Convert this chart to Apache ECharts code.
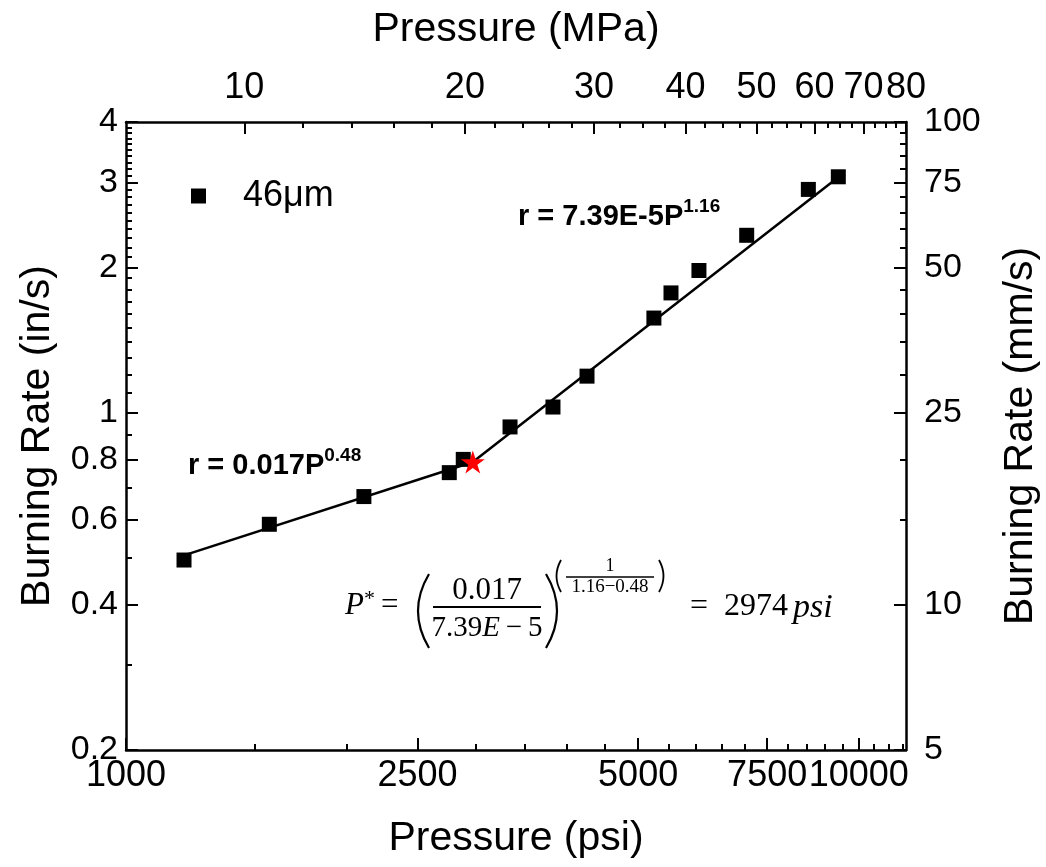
<!DOCTYPE html>
<html><head><meta charset="utf-8">
<script src="https://cdn.jsdelivr.net/npm/echarts@6/dist/echarts.min.js"></script>
<style>html,body{margin:0;padding:0;background:#fff}#c{width:1046px;height:867px}</style>
</head><body><div id="c"></div>
<script>
// ---- data ----
const pressurePsi = [1200, 1569, 2112, 2762, 2886, 3343, 3826, 4258, 5254, 5544, 6053, 7033, 8537, 9380];
const burnRate   = [0.495, 0.587, 0.670, 0.751, 0.800, 0.934, 1.027, 1.19, 1.57, 1.77, 1.97, 2.33, 2.90, 3.08];
const transitionP = [2974];
const transitionR = [0.79];
const fitLowP  = [1185, 2974];
const fitLowR  = [0.503, 0.79];
const fitHighP = [2974, 9500];
const fitHighR = [0.79, 3.12];
const seriesName = '46\u03bcm';

// ---- tick labels ----
const psiMajor = [1000, 2500, 5000, 7500, 10000];
const psiMinor = [1500, 2000, 3000, 3500, 4000, 4500, 5500, 6000, 6500, 7000, 8000, 8500, 9000, 9500, 10500, 11000, 11500];
const mpaMajor = [10, 20, 30, 40, 50, 60, 70, 80];
const mpaMinor = [12, 14, 16, 18, 22, 24, 26, 28, 32.5, 35, 37.5, 42.5, 45, 47.5, 52.5, 55, 57.5, 62.5, 65, 67.5, 72.5, 75, 77.5];
const inMajor = [0.2, 0.4, 0.6, 0.8, 1, 2, 3, 4];
const inMinor = [0.3, 0.5, 0.7, 0.9, 1.1, 1.2, 1.3, 1.4, 1.5, 1.6, 1.7, 1.8, 1.9, 2.1, 2.2, 2.3, 2.4, 2.5, 2.6, 2.7, 2.8, 2.9, 3.1, 3.2, 3.3, 3.4, 3.5, 3.6, 3.7, 3.8, 3.9];
const mmMajor = [5, 10, 25, 50, 75, 100];
const mmMinor = [15, 20, 30, 35, 40, 45, 55, 60, 65, 70, 80, 85, 90, 95];

// ---- axis ranges ----
const PSI_PER_MPA = 145.038;
const MPA_MAX = 80;
const PSI_MIN = 1000, PSI_MAX = MPA_MAX * PSI_PER_MPA;
const IN_MIN = 0.2, IN_MAX = 4;
const MM_MIN = 5, MM_MAX = 100;

const pair = (xs, ys) => xs.map((x, i) => [x, ys[i]]);
const SANS = "'Liberation Sans', Arial, sans-serif";
const NARROW = "'Liberation Sans Narrow', 'Arial Narrow', 'Liberation Sans', sans-serif";
const SERIF = "'Liberation Serif', 'DejaVu Serif', serif";
const fmt = v => String(+(+v).toPrecision(6));

function majorTick(vals) {
  return { show: true, inside: true, length: 12, customValues: vals, lineStyle: { color: '#000', width: 2 } };
}
function mainAxis(o) {
  return Object.assign({
    type: 'log', logBase: 10,
    axisLine: { show: true, lineStyle: { color: '#000', width: 2.5 } },
    splitLine: { show: false }, minorTick: { show: false },
    nameLocation: 'middle',
    nameTextStyle: { fontFamily: SANS, fontSize: 41, color: '#000' }
  }, o);
}
function minorAxis(o, vals) {
  return Object.assign({
    type: 'log', logBase: 10,
    axisLine: { show: false },
    axisTick: { show: true, inside: true, length: 6, customValues: vals, lineStyle: { color: '#000', width: 2 } },
    axisLabel: { show: false },
    splitLine: { show: false }, minorTick: { show: false }
  }, o);
}
function labels(vals, font, size, margin) {
  return { customValues: vals, formatter: fmt, margin: margin, fontFamily: font, fontSize: size,
           color: '#000', hideOverlap: false, showMinLabel: true, showMaxLabel: true };
}

const option = {
  animation: false,
  backgroundColor: '#fff',
  grid: { left: 126, right: 140, top: 122, bottom: 117, containLabel: false, outerBoundsMode: 'none' },
  xAxis: [
    mainAxis({ position: 'bottom', min: PSI_MIN, max: PSI_MAX, name: 'Pressure (psi)', nameGap: 68,
      axisTick: majorTick(psiMajor), axisLabel: labels(psiMajor, NARROW, 36, 8) }),
    minorAxis({ position: 'bottom', min: PSI_MIN, max: PSI_MAX }, psiMinor),
    mainAxis({ position: 'top', min: PSI_MIN / PSI_PER_MPA, max: MPA_MAX, name: 'Pressure (MPa)', nameGap: 72,
      axisTick: majorTick(mpaMajor), axisLabel: labels(mpaMajor, NARROW, 36, 16) }),
    minorAxis({ position: 'top', min: PSI_MIN / PSI_PER_MPA, max: MPA_MAX }, mpaMinor)
  ],
  yAxis: [
    mainAxis({ position: 'left', min: IN_MIN, max: IN_MAX, name: 'Burning Rate (in/s)', nameGap: 68,
      axisTick: majorTick(inMajor), axisLabel: labels(inMajor, SANS, 34, 8) }),
    minorAxis({ position: 'left', min: IN_MIN, max: IN_MAX }, inMinor),
    mainAxis({ position: 'right', min: MM_MIN, max: MM_MAX, name: 'Burning Rate (mm/s)', nameGap: 94,
      axisTick: majorTick(mmMajor), axisLabel: labels(mmMajor, SANS, 34, 18) }),
    minorAxis({ position: 'right', min: MM_MIN, max: MM_MAX }, mmMinor)
  ],
  legend: {
    data: [seriesName], left: 186, top: 173, icon: 'rect', itemWidth: 15, itemHeight: 15,
    itemStyle: { opacity: 1 },
    textStyle: { fontFamily: SANS, fontSize: 36, color: '#000', padding: [0, 0, 0, 32] }
  },
  series: [
    { type: 'line', name: 'fitLow', data: pair(fitLowP, fitLowR), symbol: 'none',
      lineStyle: { color: '#000', width: 2.5 }, z: 2, silent: true },
    { type: 'line', name: 'fitHigh', data: pair(fitHighP, fitHighR), symbol: 'none',
      lineStyle: { color: '#000', width: 2.5 }, z: 2, silent: true },
    { type: 'scatter', name: seriesName, data: pair(pressurePsi, burnRate), symbol: 'rect', symbolSize: 15,
      itemStyle: { color: '#000', opacity: 1 }, z: 3 },
    { type: 'scatter', name: 'P*', data: pair(transitionP, transitionR),
      symbol: 'path://M0,-100L22.45,-30.9L95.1,-30.9L36.33,11.8L58.78,80.9L0,38.2L-58.78,80.9L-36.33,11.8L-95.1,-30.9L-22.45,-30.9Z',
      symbolSize: [24, 23], itemStyle: { color: '#ff0000', opacity: 1 }, z: 4 }
  ],
  graphic: [
    { type: 'text', left: 188, top: 446, style: { rich: {
        b: { fontFamily: SANS, fontWeight: 'bold', fontSize: 29, lineHeight: 34, verticalAlign: 'bottom' },
        s: { fontFamily: SANS, fontWeight: 'bold', fontSize: 19, lineHeight: 34, verticalAlign: 'top' } },
        text: '{b|r = 0.017P}{s|0.48}', fill: '#000' } },
    { type: 'text', left: 518, top: 197, style: { rich: {
        b: { fontFamily: SANS, fontWeight: 'bold', fontSize: 29, lineHeight: 34, verticalAlign: 'bottom' },
        s: { fontFamily: SANS, fontWeight: 'bold', fontSize: 19, lineHeight: 34, verticalAlign: 'top' } },
        text: '{b|r = 7.39E-5P}{s|1.16}', fill: '#000' } },
    // P* formula (annotation)
    { type: 'group', x: 345, y: 560, children: [
      { type: 'text', x: 0, y: 30, style: { text: 'P', fontFamily: SERIF, fontStyle: 'italic', fontSize: 31, fill: '#000' } },
      { type: 'text', x: 19, y: 28, style: { text: '*', fontFamily: SERIF, fontSize: 22, fill: '#000' } },
      { type: 'text', x: 36, y: 30, style: { text: '=', fontFamily: SERIF, fontSize: 31, fill: '#000' } },
      { type: 'bezierCurve', shape: { x1: 84, y1: 14, x2: 84, y2: 88, cpx1: 62, cpy1: 51 }, style: { stroke: '#000', lineWidth: 2.2, fill: null } },
      { type: 'text', x: 142, y: 15, style: { text: '0.017', align: 'center', fontFamily: SERIF, fontSize: 31, fill: '#000' } },
      { type: 'line', shape: { x1: 88, y1: 47, x2: 196, y2: 47 }, style: { stroke: '#000', lineWidth: 2 } },
      { type: 'text', x: 142, y: 54, style: { align: 'center', rich: { n: { fontFamily: SERIF, fontSize: 29 }, i: { fontFamily: SERIF, fontSize: 29, fontStyle: 'italic' } }, text: '{n|7.39}{i|E}{n|\u2009\u2212\u20095}', fill: '#000' } },
      { type: 'bezierCurve', shape: { x1: 201, y1: 14, x2: 201, y2: 88, cpx1: 223, cpy1: 51 }, style: { stroke: '#000', lineWidth: 2.2, fill: null } },
      { type: 'bezierCurve', shape: { x1: 216, y1: 0, x2: 216, y2: 32, cpx1: 207, cpy1: 16 }, style: { stroke: '#000', lineWidth: 1.8, fill: null } },
      { type: 'text', x: 265, y: -3, style: { text: '1', align: 'center', fontFamily: SERIF, fontSize: 18, fill: '#000' } },
      { type: 'line', shape: { x1: 221, y1: 17, x2: 309, y2: 17 }, style: { stroke: '#000', lineWidth: 1.5 } },
      { type: 'text', x: 265, y: 18, style: { text: '1.16\u22120.48', align: 'center', fontFamily: SERIF, fontSize: 19, fill: '#000' } },
      { type: 'bezierCurve', shape: { x1: 314, y1: 0, x2: 314, y2: 32, cpx1: 323, cpy1: 16 }, style: { stroke: '#000', lineWidth: 1.8, fill: null } },
      { type: 'text', x: 345, y: 31, style: { text: '=', fontFamily: SERIF, fontSize: 32, fill: '#000' } },
      { type: 'text', x: 379, y: 31, style: { text: '2974', fontFamily: SERIF, fontSize: 32, fill: '#000' } },
      { type: 'text', x: 448, y: 31, style: { text: 'psi', fontFamily: SERIF, fontStyle: 'italic', fontSize: 34, fill: '#000' } }
    ] }
  ]
};
const chart = echarts.init(document.getElementById('c'), null, { renderer: 'canvas' });
chart.setOption(option);
</script>
</body></html>
